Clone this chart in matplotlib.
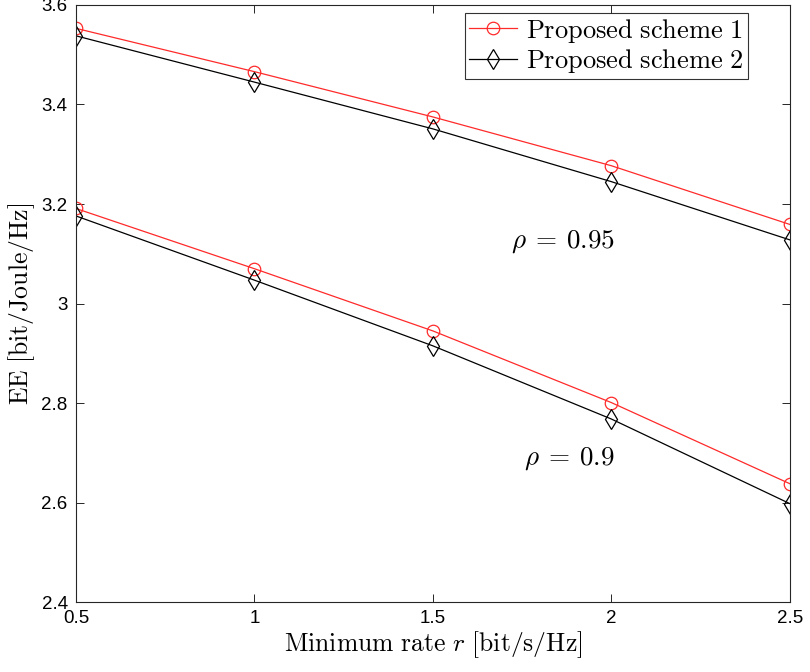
import numpy as np
import matplotlib
matplotlib.use("Agg")
import matplotlib.pyplot as plt

plt.rcParams['mathtext.fontset'] = 'cm'
plt.rcParams['font.family'] = ['Liberation Sans', 'DejaVu Sans']

rate = [0.5, 1.0, 1.5, 2.0, 2.5]
s1_095 = [3.553, 3.466, 3.375, 3.277, 3.159]
s2_095 = [3.538, 3.445, 3.351, 3.245, 3.128]
s1_09 = [3.191, 3.070, 2.945, 2.801, 2.638]
s2_09 = [3.176, 3.047, 2.915, 2.768, 2.598]

fig = plt.figure(figsize=(8.1, 6.72), dpi=100)
ax = fig.add_axes([0.0938, 0.104, 0.8812, 0.8886])

red = '#ff2a2a'
ax.plot(rate, s1_095, color=red, lw=0.9, marker='o', ms=9, mfc='none', mec=red, mew=0.9,
        label=r'$\mathrm{Proposed\ scheme\ 1}$')
ax.plot(rate, s2_095, color='black', lw=0.9, marker='d', ms=10, mfc='none', mec='black', mew=0.9,
        label=r'$\mathrm{Proposed\ scheme\ 2}$')
ax.plot(rate, s1_09, color=red, lw=0.9, marker='o', ms=9, mfc='none', mec=red, mew=0.9)
ax.plot(rate, s2_09, color='black', lw=0.9, marker='d', ms=10, mfc='none', mec='black', mew=0.9)

ax.text(2.01, 3.124, r'$\rho\:=\:0.95$', fontsize=19.5, ha='right', va='center')
ax.text(2.01, 2.689, r'$\rho\:=\:0.9$', fontsize=19.5, ha='right', va='center')

ax.set_xlim(0.5, 2.5)
ax.set_ylim(2.4, 3.6)
ax.set_xticks([0.5, 1, 1.5, 2, 2.5])
ax.set_xticklabels(['0.5', '1', '1.5', '2', '2.5'])
ax.set_yticks([2.4, 2.6, 2.8, 3.0, 3.2, 3.4, 3.6])
ax.set_yticklabels(['2.4', '2.6', '2.8', '3', '3.2', '3.4', '3.6'])
ax.tick_params(direction='in', top=True, right=True, labelsize=13.5, length=6,
               width=0.7, color='#262626', pad=6)
for sp in ax.spines.values():
    sp.set_linewidth(0.8)
    sp.set_color('#262626')

ax.set_xlabel(r'$\mathrm{Minimum\ rate\ } r\ \mathrm{[bit/s/Hz]}$', fontsize=18.5, labelpad=1)
ax.set_ylabel(r'$\mathrm{EE\ [bit/Joule/Hz]}$', fontsize=18.5, labelpad=3)

leg = ax.legend(loc='upper right', bbox_to_anchor=(0.941, 0.987), fontsize=19,
                frameon=True, fancybox=False, edgecolor='black', handlelength=1.8,
                borderaxespad=0.0, borderpad=0.15, labelspacing=0.1, handletextpad=0.35)
leg.get_frame().set_linewidth(0.8)

fig.savefig('out.png', dpi=100)
